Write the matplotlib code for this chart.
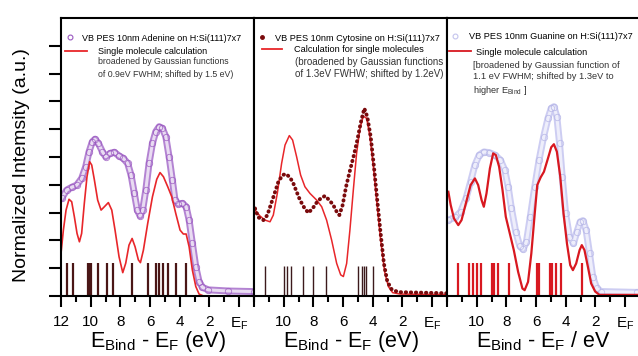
import matplotlib.pyplot as plt
from matplotlib.lines import Line2D
from matplotlib.ticker import MultipleLocator

plt.rcParams['font.family'] = ['Liberation Sans', 'DejaVu Sans']
plt.rcParams['mathtext.default'] = 'regular'

# ---- Adenine ----
ade_exp_e = [11.96, 11.62, 11.28, 10.94, 10.61, 10.34, 10.11, 9.89, 9.71, 9.48, 9.21, 8.99,
             8.7, 8.41, 8.09, 7.8, 7.51, 7.28, 7.06, 6.86, 6.67, 6.5, 6.29, 6.07, 5.84, 5.62,
             5.39, 5.17, 4.94, 4.72, 4.5, 4.32, 4.09, 3.82, 3.57, 3.37, 3.15, 2.92, 2.7, 2.47,
             2.07, 0.72, -0.97]
ade_exp_i = [3.51, 3.81, 3.91, 3.99, 4.23, 4.65, 5.19, 5.55, 5.64, 5.49, 5.19, 5.01,
             5.13, 5.17, 5.04, 4.95, 4.77, 4.35, 3.69, 3.09, 2.88, 3.09, 3.81, 4.77, 5.49, 5.91,
             6.09, 6.03, 5.73, 5.01, 4.17, 3.45, 3.31, 3.33, 3.21, 2.73, 1.89, 1.05, 0.52, 0.31,
             0.22, 0.18, 0.16]
ade_calc_e = [12.0, 11.84, 11.66, 11.46, 11.28, 11.1, 10.92, 10.76, 10.61, 10.43, 10.25, 10.07,
              9.93, 9.75, 9.53, 9.3, 9.08, 8.81, 8.58, 8.36, 8.09, 7.84, 7.64, 7.42, 7.21,
              7.01, 6.79, 6.65, 6.45, 6.16, 5.84, 5.55, 5.33, 5.1, 4.81, 4.54, 4.27, 3.98,
              3.76, 3.57, 3.37, 3.15, 2.92, 2.7, 2.4]
ade_calc_i = [1.53, 2.37, 3.09, 3.48, 3.39, 2.85, 2.25, 1.95, 2.25, 3.33, 4.29, 4.83,
              4.71, 4.17, 3.45, 3.09, 3.21, 3.36, 3.09, 2.37, 1.41, 0.84, 1.18, 1.83, 2.07,
              1.77, 1.3, 1.2, 1.65, 2.61, 3.57, 4.2, 4.44, 4.29, 3.93, 3.57, 2.97, 2.37,
              2.23, 2.23, 1.77, 0.93, 0.34, 0.07, 0.0]
ade_sticks = [11.62, 11.17, 10.16, 10.05, 10.0, 9.49, 8.92, 8.47, 7.23, 6.15, 5.59, 5.37,
              5.14, 4.76, 4.27, 3.58]

# ---- Cytosine ----
cyt_exp_e = [11.93, 11.71, 11.37, 11.1, 10.88, 10.65, 10.36, 10.07, 9.85, 9.58, 9.35, 9.13,
             8.9, 8.63, 8.34, 8.05, 7.78, 7.51, 7.22, 6.93, 6.66, 6.39, 6.25, 6.03, 5.8, 5.53,
             5.27, 5.04, 4.82, 4.57, 4.37, 4.14, 3.92, 3.7, 3.47, 3.25, 3.02, 2.73, 2.28,
             -0.97]
cyt_exp_i = [3.15, 2.83, 2.73, 2.91, 3.27, 3.63, 4.11, 4.35, 4.39, 4.27, 4.05, 3.75,
             3.45, 3.19, 2.99, 3.15, 3.36, 3.51, 3.6, 3.45, 3.27, 2.99, 2.91, 3.27, 3.93, 4.53,
             5.07, 5.61, 6.21, 6.75, 6.45, 5.73, 4.65, 3.45, 2.25, 1.17, 0.52, 0.24, 0.14,
             0.1]
cyt_calc_e = [11.93, 11.6, 11.26, 10.92, 10.7, 10.43, 10.14, 9.91, 9.62, 9.4, 9.13, 8.86,
              8.57, 8.23, 7.78, 7.44, 7.11, 6.77, 6.43, 6.16, 5.98, 5.76, 5.54, 5.31, 5.09,
              4.86, 4.64, 4.41, 4.19, 3.96, 3.74, 3.47, 3.2, 2.95, 2.66, 2.17, -0.97]
cyt_calc_i = [3.09, 2.88, 2.73, 2.67, 2.91, 3.69, 4.77, 5.43, 5.77, 5.61, 5.01, 4.35,
              3.93, 3.69, 3.45, 3.21, 2.73, 2.01, 1.17, 0.76, 0.7, 1.17, 2.37, 3.81, 5.13,
              6.03, 6.47, 6.39, 5.73, 4.65, 3.45, 2.01, 0.87, 0.34, 0.12, 0.07, 0.05]
cyt_sticks = [11.26, 9.96, 9.8, 9.53, 8.72, 8.05, 7.15, 5.02, 4.71, 4.6, 4.48, 4.01]

# ---- Guanine ----
gua_exp_e = [11.91, 11.46, 11.08, 10.72, 10.41, 10.12, 9.83, 9.52, 9.16, 8.78, 8.4, 8.11,
             7.88, 7.66, 7.37, 7.1, 6.88, 6.65, 6.39, 6.09, 5.8, 5.49, 5.2, 4.98, 4.8, 4.6,
             4.42, 4.24, 4.01, 3.75, 3.48, 3.25, 3.03, 2.85, 2.63, 2.4, 2.18, 1.91, 1.62,
             -0.82]
gua_exp_i = [2.73, 2.83, 3.03, 3.51, 4.11, 4.71, 5.07, 5.18, 5.16, 5.07, 4.89, 4.53,
             3.93, 3.15, 2.31, 1.8, 1.68, 1.95, 2.85, 3.93, 4.89, 5.73, 6.39, 6.75, 6.81, 6.45,
             5.49, 4.29, 2.97, 2.13, 1.89, 2.31, 2.67, 2.71, 2.37, 1.53, 0.69, 0.27, 0.16,
             0.13]
gua_calc_e = [11.91, 11.75, 11.53, 11.24, 11.02, 10.73, 10.41, 10.12, 9.9, 9.67, 9.52, 9.34,
              9.11, 8.89, 8.71, 8.49, 8.26, 8.04, 7.77, 7.5, 7.21, 6.92, 6.77, 6.54, 6.32,
              6.09, 5.92, 5.69, 5.47, 5.2, 4.98, 4.8, 4.6, 4.37, 4.15, 3.92, 3.7, 3.52, 3.3,
              3.07, 2.92, 2.74, 2.51, 2.29, 2.02, 1.73, -0.82]
gua_calc_i = [3.75, 3.27, 2.79, 2.55, 2.73, 3.33, 3.99, 4.23, 3.99, 3.45, 3.21, 3.69,
              4.59, 5.13, 5.07, 4.65, 3.81, 2.85, 2.25, 1.65, 0.87, 0.27, 0.21, 0.51, 1.53,
              2.97, 3.99, 4.27, 4.47, 4.95, 5.35, 5.46, 5.19, 4.29, 2.97, 1.89, 1.11, 0.93, 1.17,
              1.65, 1.83, 1.65, 1.05, 0.45, 0.16, 0.04, 0.04]
gua_sticks = [11.24, 10.5, 10.23, 10.01, 9.74, 8.96, 8.85, 8.56, 7.84, 5.91, 5.8, 5.09,
              4.95, 4.64, 4.3, 2.92]

stick_h = [1.19, 1.08, 1.2]
tick_pos = [12, 10, 8, 6, 4, 2, 0]
tick_lab = ['12', '10', '8', '6', '4', '2', '$E_F$']

W, H = 638, 356
fig = plt.figure(figsize=(W / 100, H / 100), dpi=100)
axes = [fig.add_axes([l / W, (H - 296) / H, 193 / W, 278 / H]) for l in (61, 254, 447)]

for i, ax in enumerate(axes):
    ax.set_xlim(12, -1)
    ax.set_ylim(0, 10)
    ax.xaxis.set_minor_locator(MultipleLocator(1))
    ax.set_xticks(tick_pos)
    ax.set_xticklabels(tick_lab if i == 0 else [''] + tick_lab[1:])
    ax.tick_params(axis='x', which='major', direction='out', length=8, width=1.5,
                   labelsize=11, pad=6)
    ax.tick_params(axis='x', which='minor', direction='out', length=4, width=1.5)
    for s in ax.spines.values():
        s.set_linewidth(1.5)
    if i == 0:
        ax.set_yticks(range(10))
        ax.set_yticklabels([])
        ax.tick_params(axis='y', direction='out', length=8.5, width=1.5)
    else:
        ax.set_yticks([])
    xl = r'$E_{Bind}$ - $E_F$ (eV)' if i < 2 else r'$E_{Bind}$ - $E_F$ / eV'
    ax.set_xlabel(xl, fontsize=15.5, labelpad=-2)

# Adenine panel
ax = axes[0]
ax.vlines(ade_sticks, 0, stick_h[0], color='#4a1616', lw=1.6)
ax.plot(ade_exp_e, ade_exp_i, color='#b383d2', lw=5, solid_capstyle='round',
        solid_joinstyle='round')
ax.plot(ade_exp_e, ade_exp_i, color='#e9dcf2', lw=2.2, solid_joinstyle='round')
ax.plot(ade_exp_e, ade_exp_i, 'o', ms=4.6, mfc='none', mec='#9a58c0', mew=0.6, alpha=0.8)
ax.plot(ade_calc_e, ade_calc_i, color='#e8262a', lw=1.2)

# Cytosine panel
ax = axes[1]
ax.vlines(cyt_sticks, 0, stick_h[1], color='#3c1a1c', lw=1.0)
ax.plot(cyt_calc_e, cyt_calc_i, color='#e8262a', lw=1.1)
ax.plot(cyt_exp_e, cyt_exp_i, color='#7a0a0c', lw=2.8, ls=(0, (0.1, 1.2)),
        dash_capstyle='round')

# Guanine panel
ax = axes[2]
ax.vlines(gua_sticks, 0, stick_h[2], color='#d81820', lw=1.6)
ax.plot(gua_exp_e, gua_exp_i, color='#cdcdf2', lw=5, solid_capstyle='round',
        solid_joinstyle='round')
ax.plot(gua_exp_e, gua_exp_i, color='#eeeefb', lw=2.2, solid_joinstyle='round')
ax.plot(gua_exp_e, gua_exp_i, 'o', ms=4.6, mfc='none', mec='#b4b4e6', mew=0.6, alpha=0.8)
ax.plot(gua_calc_e, gua_calc_i, color='#d81820', lw=1.6)

# legends
exp_handles = [
    Line2D([], [], ls='none', marker='o', ms=3.5, mfc='none', mec='#9a58c0', mew=0.8),
    Line2D([], [], ls='none', marker='o', ms=2.5, color='#7a0a0c'),
    Line2D([], [], ls='none', marker='o', ms=3.5, mfc='none', mec='#c4c4ee', mew=0.8),
]
exp_titles = ['VB PES 10nm Adenine on H:Si(111)7x7',
              'VB PES 10nm Cytosine on H:Si(111)7x7',
              'VB PES 10nm Guanine on H:Si(111)7x7']
calc_titles = ['Single molecule calculation', 'Calculation for single molecules',
               'Single molecule calculation']
calc_more = ['broadened by Gaussian functions\nof 0.9eV FWHM; shifted by 1.5 eV)',
             '(broadened by Gaussian functions\nof 1.3eV FWHW; shifted by 1.2eV)',
             '[broadened by Gaussian function of\n1.1 eV FWHM; shifted by 1.3eV to\nhigher $E_{Bind}$ ]']
leg_cfg = [
    # exp anchor, exp pad, calc anchor, calc len, calc pad, more xy, sizes, spacing
    ((0.019, 0.928), 0.75, (0.021, 0.88), 2.4, 1.2, (0.192, 0.858), 6.5, 6.3, 1.45),
    ((0.013, 0.928), 0.85, (0.040, 0.885), 2.2, 1.3, (0.210, 0.86), 6.6, 7.0, 1.2),
    ((0.012, 0.932), 0.95, (0.012, 0.877), 2.4, 0.55, (0.133, 0.845), 6.6, 6.7, 1.3),
]
calc_colors = ['#e8262a', '#e8262a', '#d81820']
for ax, h, t, ct, cm, cfg, cc in zip(axes, exp_handles, exp_titles, calc_titles, calc_more,
                                     leg_cfg, calc_colors):
    a1, p1, a2, hl2, p2, mxy, fs1, fs2, lsp = cfg
    l1 = ax.legend([h], [t], loc='center left', bbox_to_anchor=a1, frameon=False,
                   fontsize=fs1, handlelength=1.2, handletextpad=p1, borderpad=0,
                   borderaxespad=0)
    ax.add_artist(l1)
    ax.legend([Line2D([], [], color=cc, lw=1.3)], [ct], loc='center left',
              bbox_to_anchor=a2, frameon=False, fontsize=fs1, handlelength=hl2,
              handletextpad=p2, borderpad=0, borderaxespad=0)
    ax.text(mxy[0], mxy[1], cm, transform=ax.transAxes, fontsize=fs2, va='top',
            ha='left', linespacing=lsp, color='#333333')

fig.text(22 / W, 1 - 165 / H, 'Normalized Intemsity (a.u.)', rotation=90, fontsize=14,
         ha='center', va='center')

fig.savefig('out.png', dpi=100)
